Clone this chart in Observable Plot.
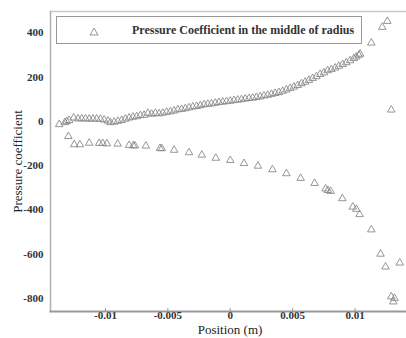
<!DOCTYPE html>
<html>
<head>
<meta charset="utf-8">
<script src="https://cdn.jsdelivr.net/npm/d3@7"></script>
<script src="https://cdn.jsdelivr.net/npm/@observablehq/plot@0.6"></script>
<style>
  html, body { margin: 0; padding: 0; background: #fff; }
  #wrap { position: relative; width: 406px; height: 338px; overflow: hidden; }
  #legend {
    position: absolute; left: 56px; top: 16px; width: 306px; height: 28px;
    border: 1px solid #999; box-sizing: border-box; background: #fff;
    font-family: "Liberation Serif", "Times New Roman", serif; font-weight: bold; font-size: 12px; color: #333;
  }
  #legend svg { position: absolute; left: 32px; top: 10px; }
  #legend span { position: absolute; left: 75px; top: 6px; white-space: nowrap; }
</style>
</head>
<body>
<div id="wrap"></div>
<script>
// Upper branch (position m, pressure coefficient)
const upperX = [-0.0137,-0.01325,-0.0131,-0.0129,-0.01255,-0.0122,-0.0119,-0.0116,-0.0113,-0.011,-0.0107,-0.0104,-0.0101,-0.0098,-0.0096,-0.0093,-0.009,-0.0087,-0.0084,-0.0081,-0.0078,-0.0075,-0.0072,-0.0069,-0.0066,-0.0063,-0.006,-0.0057,-0.0054,-0.0051,-0.0048,-0.0045,-0.0042,-0.0039,-0.0036,-0.0033,-0.003,-0.0027,-0.0024,-0.0021,-0.0018,-0.0015,-0.0012,-0.0009,-0.0006,-0.0003,0,0.0003,0.0006,0.0009,0.0012,0.0015,0.0018,0.0021,0.0024,0.0027,0.003,0.0033,0.0036,0.0039,0.0042,0.0045,0.0048,0.0051,0.0054,0.0057,0.006,0.0063,0.0066,0.0069,0.0072,0.0075,0.0078,0.0081,0.0084,0.0087,0.009,0.0093,0.0096,0.0099,0.0101,0.0103,0.0104,0.0113,0.01218,0.01258,0.0129];
const upperY = [-14,-5,0,5,16,12,12,12,11,11,11,10,7,2,-5,-3,1,5,11,16,20,22,27,28,37,33,37,35,38,42,44,48,53,55,58,62,66,68,72,76,78,80,83,86,88,90,92,95,97,99,102,104,106,109,112,116,119,123,127,131,137,143,150,156,163,171,178,186,195,203,213,220,230,235,242,250,258,266,275,285,292,300,305,355,426,453,52];
// Lower branch
const lowerX = [-0.01297,-0.0125,-0.01204,-0.0113,-0.0105,-0.01022,-0.00988,-0.00902,-0.0081,-0.00777,-0.00764,-0.00676,-0.00562,-0.00548,-0.0045,-0.0033,-0.00228,-0.00116,0,0.0011,0.00222,0.00338,0.0045,0.00564,0.00676,0.00764,0.00782,0.00804,0.00898,0.00982,0.0101,0.01036,0.0113,0.01204,0.01244,0.01358,0.0129,0.01316,0.01306];
const lowerY = [-68,-105,-105,-98,-99,-99,-101,-102,-108,-110,-110,-111,-122,-123,-130,-141,-152,-166,-176,-190,-202,-218,-236,-257,-280,-305,-312,-316,-349,-387,-397,-421,-490,-600,-658,-640,-793,-800,-816];

const xTicks = [-0.01, -0.005, 0, 0.005, 0.01];
const xTickLabels = ["-0.01", "-0.005", "0", "0.005", "0.01"];
const yTicks = [-800, -600, -400, -200, 0, 200, 400];
const yTickLabels = ["-800", "-600", "-400", "-200", "0", "200", "400"];
const xLabel = "Position (m)";
const yLabel = "Pressure coefficient";
const legendLabel = "Pressure Coefficient in the middle of radius";

const points = upperX.map((x, i) => ({x, y: upperY[i]}))
  .concat(lowerX.map((x, i) => ({x, y: lowerY[i]})));

const chart = Plot.plot({
  width: 406,
  height: 338,
  marginTop: 11,
  marginBottom: 27,
  marginLeft: 50,
  marginRight: 1,
  style: {fontFamily: "'Liberation Serif', 'Times New Roman', serif", fontSize: "11px", color: "#333", background: "#fff"},
  x: {domain: [-0.0144, 0.01404]},
  y: {domain: [-860, 497]},
  marks: [
    Plot.frame({anchor: "top", stroke: "#c8c8c8", strokeWidth: 1.5}),
    Plot.frame({anchor: "left", stroke: "#b0b0b0", strokeWidth: 1.5}),
    Plot.frame({anchor: "bottom", stroke: "#999", strokeWidth: 2}),
    Plot.axisX({ticks: xTicks, tickFormat: d => xTickLabels[xTicks.indexOf(d)], tickSize: -3, tickPadding: 3, stroke: "#999", fontWeight: "bold", label: null}),
    Plot.axisY({ticks: yTicks, tickFormat: d => yTickLabels[yTicks.indexOf(d)], tickSize: 0, tickPadding: 7, fontWeight: "bold", label: null}),
    Plot.dot(points, {x: "x", y: "y", symbol: "triangle", r: 2.8, stroke: "#8a8a8a", strokeWidth: 0.9, fill: "none"}),
    Plot.text([xLabel], {frameAnchor: "bottom", dx: 2, dy: 22, fontSize: 13, fill: "#222"}),
    Plot.text([yLabel], {frameAnchor: "left", dx: -33, rotate: -90, textAnchor: "middle", fontSize: 13, fill: "#222"})
  ]
});

const wrap = document.getElementById("wrap");
wrap.appendChild(chart);
const lg = document.createElement("div");
lg.id = "legend";
lg.innerHTML = '<svg width="10" height="9" viewBox="0 0 10 9"><polygon points="5,1 9,8 1,8" fill="none" stroke="#8a8a8a" stroke-width="0.9"/></svg><span></span>';
lg.querySelector("span").textContent = legendLabel;
wrap.appendChild(lg);
</script>
</body>
</html>
